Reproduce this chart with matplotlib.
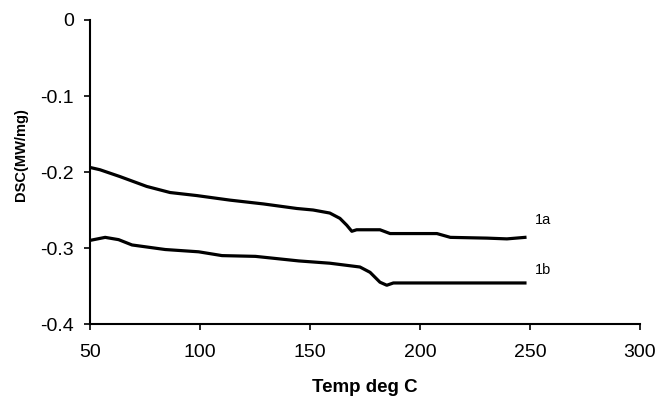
"""
DSC curves 1a / 1b
"""
import matplotlib
matplotlib.use('Agg')
import matplotlib.pyplot as plt

plt.rcParams['font.family'] = ['Liberation Sans', 'DejaVu Sans']

# curve 1a
temp_1a = [50, 54.5, 63.6, 75.8, 86.4, 98.5, 113.6, 128.8, 144, 151.4, 159, 163.6,
           166.7, 169, 171.2, 181.8, 186.4, 207.7, 213.8, 230.5, 239.5, 247.7]
dsc_1a = [-0.194, -0.197, -0.206, -0.219, -0.227, -0.231, -0.237, -0.242, -0.248, -0.250,
          -0.254, -0.261, -0.270, -0.278, -0.276, -0.276, -0.281, -0.281, -0.286, -0.287,
          -0.288, -0.286]

# curve 1b
temp_1b = [50, 56.9, 63, 69.1, 84.2, 99.4, 110, 125.2, 144.9, 159, 172.7, 177.3,
           181.8, 184.9, 187.9, 247.7]
dsc_1b = [-0.290, -0.286, -0.289, -0.296, -0.302, -0.305, -0.310, -0.311, -0.317, -0.320,
          -0.325, -0.332, -0.345, -0.349, -0.346, -0.346]

x_ticks = [50, 100, 150, 200, 250, 300]
y_ticks = [-0.4, -0.3, -0.2, -0.1, 0]
y_labels = ['-0.4', '-0.3', '-0.2', '-0.1', '0']

fig = plt.figure(figsize=(6.55, 3.96), dpi=100)
ax = fig.add_axes([0.1374, 0.1818, 0.8397, 0.7677])

ax.plot(temp_1a, dsc_1a, color='black', linewidth=2.3)
ax.plot(temp_1b, dsc_1b, color='black', linewidth=2.3)

ax.text(252, -0.263, '1a', fontsize=10.5, va='center', ha='left')
ax.text(252, -0.329, '1b', fontsize=10.5, va='center', ha='left')

ax.set_xlim(50, 300)
ax.set_ylim(-0.4, 0)
ax.set_xticks(x_ticks)
ax.set_yticks(y_ticks)
ax.set_yticklabels(y_labels)
ax.tick_params(direction='out', length=4.5, width=1.2, labelsize=14)
ax.tick_params(axis='x', pad=10)
ax.tick_params(axis='y', pad=7)

for side in ['top', 'right']:
    ax.spines[side].set_visible(False)
for side in ['left', 'bottom']:
    ax.spines[side].set_linewidth(1.5)

ax.set_xlabel('Temp deg C', fontsize=13.5, fontweight='bold', va='baseline')
ax.xaxis.set_label_coords(0.5, -0.2237)
ax.set_ylabel('DSC(MW/mg)', fontsize=10.5, fontweight='bold', va='baseline')
ax.yaxis.set_label_coords(-0.118, 0.556)

plt.savefig('out.png', dpi=100, facecolor='white')
